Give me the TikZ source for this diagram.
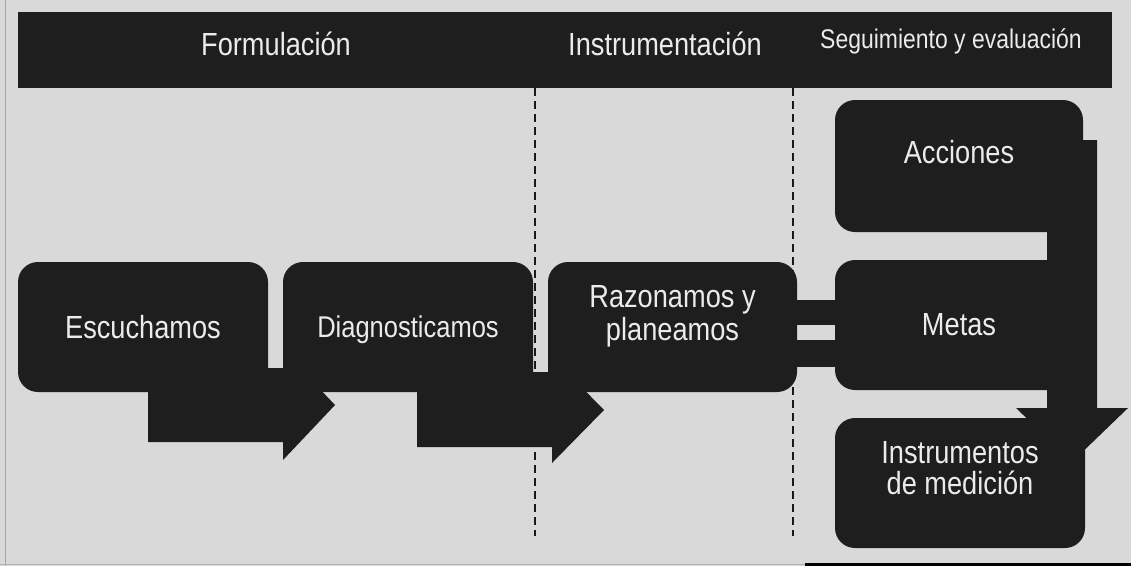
\documentclass[tikz,border=0pt]{standalone}
\usepackage{fontspec}
\setmainfont[FakeStretch=0.85]{Liberation Sans}
\definecolor{bg}{HTML}{D9D9D9}
\definecolor{boxc}{HTML}{1E1E1E}
\definecolor{txt}{HTML}{EBEBEB}
\tikzset{
  box/.style={fill=boxc, rounded corners=20pt, minimum width=250pt, minimum height=130pt,
    inner sep=0pt},
  boxtext/.style={text=txt, align=center, inner sep=0pt, font=\fontsize{32}{31}\selectfont},
  flowarrow/.style={fill=boxc},
  phase/.style={text=txt, anchor=base, font=\fontsize{32}{36}\selectfont},
  divider/.style={draw=black!90, line width=2.3pt, dash pattern=on 8pt off 5pt},
  linkbar/.style={fill=boxc}
}
\begin{document}
\begin{tikzpicture}[x=1pt,y=-1pt]
\fill[bg] (0,0) rectangle (1131,566);
\useasboundingbox (0,0) rectangle (1131,566);
\draw[gray!70, line width=0.8pt] (5,0) -- (5,566);
\draw[gray!60, line width=1pt] (0,564.5) -- (805,564.5);
\draw[black, line width=3pt] (805,564.5) -- (1131,564.5);

% phase dividers
\draw[divider] (535,88) -- (535,536);
\draw[divider] (793,88) -- (793,536);

% flow arrows (behind the boxes)
\fill[flowarrow] (148,368) -- (283,368) -- (283,350) -- (335,405) -- (283,460) -- (283,442) -- (148,442) -- cycle;
\fill[flowarrow] (417,372) -- (552,372) -- (552,357) -- (604,410) -- (552,463) -- (552,447) -- (417,447) -- cycle;
\fill[flowarrow] (1047,140) -- (1097,140) -- (1097,408) -- (1128,408) -- (1072,462) -- (1016,408) -- (1047,408) -- cycle;

% boxes
\node[box] (esc) at (143,327) {};
\node[box] (diag) at (408,327) {};
\node[box, minimum width=249pt] (razon) at (672.5,327) {};
\node[box, minimum width=248pt, minimum height=132pt] (acc) at (959,166) {};
\node[box, minimum width=248pt] (metas) at (959,325) {};
\node[box] (instr) at (960,483) {};

% box texts
\node[boxtext] (esct) at (esc.center) {Escuchamos};
\node[boxtext, font=\fontsize{30}{34}\selectfont] (diagt) at ([yshift=-3pt]diag.center) {Diagnosticamos};
\node[boxtext, font=\fontsize{32}{33}\selectfont] (razont) at ([yshift=11pt]razon.center) {Razonamos y\\planeamos};
\node[boxtext] (acct) at ([yshift=14pt]acc.center) {Acciones};
\node[boxtext] (metast) at (metas.center) {Metas};
\node[boxtext] (instrt) at ([yshift=15pt]instr.center) {Instrumentos\\de medición};

% links between Razonamos y planeamos and Metas
\fill[linkbar] (razon.east |- 0,300) rectangle (metas.west |- 0,325);
\fill[linkbar] (razon.east |- 0,340) rectangle (metas.west |- 0,367);

% header
\node[fill=boxc, minimum width=1094pt, minimum height=76pt, inner sep=0pt, anchor=north west] (header) at (18,12) {};
\node[phase] (formulacion) at (276,55) {Formulación};
\node[phase] (instrumentacion) at (665,55) {Instrumentación};
\node[phase, font=\fontsize{27}{30}\selectfont] (seguimiento) at (951,48) {Seguimiento y evaluación};
\end{tikzpicture}
\end{document}
